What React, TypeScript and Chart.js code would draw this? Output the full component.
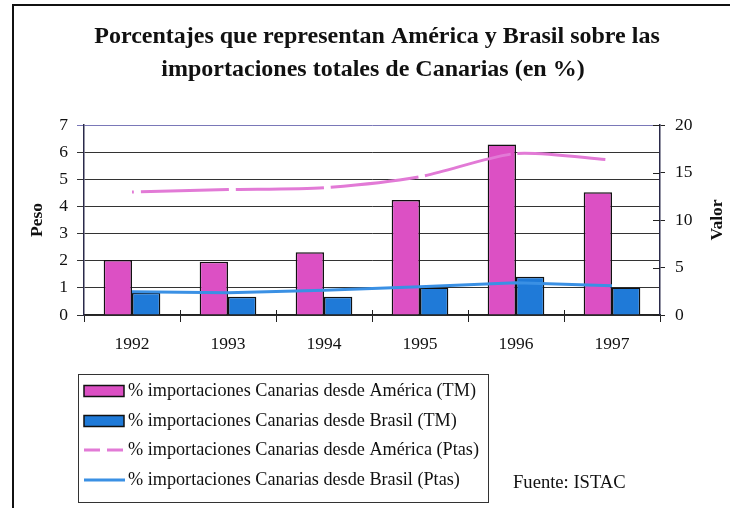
import React, { useEffect, useRef } from "react";
import { Chart, registerables } from "chart.js";

Chart.register(...registerables);

// ---- data ----
const years = ["1992", "1993", "1994", "1995", "1996", "1997"];
const americaTM = [2.03, 1.96, 2.31, 4.24, 6.28, 4.52];
const brasilTM = [0.82, 0.67, 0.67, 1.01, 1.41, 1.01];
const americaPtas = [12.95, 13.2, 13.4, 14.56, 17.0, 16.3];
const brasilPtas = [2.46, 2.35, 2.6, 2.98, 3.4, 3.09];

const seriesLabels = [
  "% importaciones Canarias desde América (TM)",
  "% importaciones Canarias desde Brasil (TM)",
  "% importaciones Canarias desde América (Ptas)",
  "% importaciones Canarias desde Brasil (Ptas)",
];
const titleLines = [
  "Porcentajes que representan América y Brasil sobre las",
  "importaciones totales de Canarias (en %)",
];
const leftTitle = "Peso";
const rightTitle = "Valor";
const sourceText = "Fuente: ISTAC";
const leftTicks = [0, 7, 1];
const rightTicks = [0, 20, 5];

const SERIF = '"Liberation Serif", "Times New Roman", serif';

const decorPlugin = {
  id: "decor",
  beforeDraw(chart: any) {
    const ctx = chart.ctx;
    ctx.save();
    ctx.fillStyle = "#ffffff";
    ctx.fillRect(0, 0, chart.width, chart.height);
    ctx.restore();
  },
  afterDraw(chart: any) {
    const ctx = chart.ctx;
    const area = chart.chartArea;
    ctx.save();
    // outer frame (right/bottom edges fall outside the picture)
    ctx.strokeStyle = "#111";
    ctx.lineWidth = 2;
    ctx.strokeRect(13, 5, 740, 540);

    // title
    ctx.fillStyle = "#111";
    ctx.textAlign = "center";
    ctx.textBaseline = "middle";
    ctx.font = `bold 24px ${SERIF}`;
    ctx.fillText(titleLines[0], 377, 37);
    ctx.fillText(titleLines[1], 373, 70);

    // right axis title, reading upwards
    ctx.save();
    ctx.translate(717, (area.top + area.bottom) / 2);
    ctx.rotate(-Math.PI / 2);
    ctx.font = `bold 17.5px ${SERIF}`;
    ctx.fillText(rightTitle, 0, 0);
    ctx.restore();

    // inner halves of crossing tick marks
    ctx.strokeStyle = "#222";
    ctx.lineWidth = 1;
    const y1 = chart.scales.y1;
    y1.ticks.forEach((t: any) => {
      const yy = Math.round(y1.getPixelForValue(t.value)) + 0.5;
      ctx.beginPath();
      ctx.moveTo(area.right - 7, yy);
      ctx.lineTo(area.right, yy);
      ctx.stroke();
    });
    const xs = chart.scales.x;
    for (let i = 1; i < years.length; i++) {
      const xx = Math.round((xs.getPixelForTick(i - 1) + xs.getPixelForTick(i)) / 2) + 0.5;
      ctx.beginPath();
      ctx.moveTo(xx, area.bottom - 5);
      ctx.lineTo(xx, area.bottom);
      ctx.stroke();
    }

    // legend
    ctx.strokeStyle = "#333";
    ctx.lineWidth = 1;
    ctx.strokeRect(78.5, 374.5, 410, 128);
    const rows = [391, 421, 450, 480];
    chart.data.datasets.forEach((ds: any, i: number) => {
      const y = rows[i];
      if (ds.type === "bar") {
        ctx.fillStyle = ds.backgroundColor;
        ctx.fillRect(84, y - 5.5, 40, 11);
        ctx.strokeStyle = "#111";
        ctx.lineWidth = 1.5;
        ctx.strokeRect(84, y - 5.5, 40, 11);
      } else {
        ctx.strokeStyle = ds.borderColor;
        ctx.lineWidth = 3;
        ctx.setLineDash(ds.borderDash ? [16, 7] : []);
        ctx.beginPath();
        ctx.moveTo(84, y);
        ctx.lineTo(125, y);
        ctx.stroke();
        ctx.setLineDash([]);
      }
      ctx.fillStyle = "#111";
      ctx.textAlign = "left";
      ctx.textBaseline = "middle";
      ctx.font = `18.2px ${SERIF}`;
      ctx.fillText(ds.label, 128, y);
    });

    ctx.font = `18.6px ${SERIF}`;
    ctx.fillText(sourceText, 513, 483);
    ctx.restore();
  },
};

export default function App() {
  const ref = useRef<HTMLCanvasElement | null>(null);

  useEffect(() => {
    if (!ref.current) return;
    const chart = new Chart(ref.current, {
      type: "bar",
      data: {
        labels: years,
        datasets: [
          {
            type: "bar",
            label: seriesLabels[0],
            data: americaTM,
            backgroundColor: "#dc50c4",
            borderColor: "#111",
            borderWidth: 1.5,
            yAxisID: "y",
            order: 1,
            categoryPercentage: 0.59,
            barPercentage: 1.0,
          },
          {
            type: "bar",
            label: seriesLabels[1],
            data: brasilTM,
            backgroundColor: "#1f7ad8",
            borderColor: "#111",
            borderWidth: 1.5,
            yAxisID: "y",
            order: 1,
            categoryPercentage: 0.59,
            barPercentage: 1.0,
          },
          {
            type: "line",
            label: seriesLabels[2],
            data: americaPtas,
            borderColor: "#e27ad6",
            borderWidth: 3,
            borderDash: [88, 7],
            borderDashOffset: 86,
            tension: 0.25,
            pointRadius: 0,
            fill: false,
            yAxisID: "y1",
            order: 0,
          },
          {
            type: "line",
            label: seriesLabels[3],
            data: brasilPtas,
            borderColor: "#3a90e4",
            borderWidth: 3,
            tension: 0,
            pointRadius: 0,
            fill: false,
            yAxisID: "y1",
            order: 0,
          },
        ] as any,
      },
      options: {
        animation: false,
        responsive: false,
        maintainAspectRatio: false,
        layout: { padding: { top: 125, bottom: 153, left: 0, right: 0 } },
        plugins: {
          legend: { display: false },
          title: { display: false },
          tooltip: { enabled: false },
        },
        scales: {
          x: {
            afterFit: (s: any) => {
              s.height = 40;
            },
            grid: {
              drawOnChartArea: false,
              offset: true,
              tickLength: 7,
              color: "#222",
            },
            border: { color: "#222", width: 1.5 },
            ticks: {
              color: "#111",
              padding: 12,
              font: { family: SERIF, size: 17.5 },
            },
          },
          y: {
            position: "left",
            min: leftTicks[0],
            max: leftTicks[1],
            afterFit: (s: any) => {
              s.width = 84;
            },
            ticks: {
              stepSize: leftTicks[2],
              color: "#111",
              padding: 9,
              font: { family: SERIF, size: 17.5 },
            },
            grid: {
              color: (c: any) => (c.tick && c.tick.value === 7 ? "#7a78b8" : "#333"),
              tickLength: 7,
              lineWidth: 1,
            },
            border: { color: "#2a2a4a", width: 1.5 },
            title: {
              display: true,
              text: leftTitle,
              color: "#111",
              font: { family: SERIF, size: 17.5, weight: "bold" },
              padding: { top: 27, bottom: 0 },
            },
          },
          y1: {
            position: "right",
            min: rightTicks[0],
            max: rightTicks[1],
            afterFit: (s: any) => {
              s.width = 70;
            },
            ticks: {
              stepSize: rightTicks[2],
              color: "#111",
              padding: 10,
              font: { family: SERIF, size: 17.5 },
            },
            grid: { drawOnChartArea: false, tickLength: 5, color: "#222" },
            border: { color: "#2a2a4a", width: 1.5 },
          },
        },
      } as any,
      plugins: [decorPlugin],
    });
    return () => chart.destroy();
  }, []);

  return (
    <div style={{ position: "absolute", left: 0, top: 0, width: 730, height: 508, background: "#fff" }}>
      <canvas ref={ref} width={730} height={508} style={{ width: 730, height: 508, display: "block" }} />
    </div>
  );
}
